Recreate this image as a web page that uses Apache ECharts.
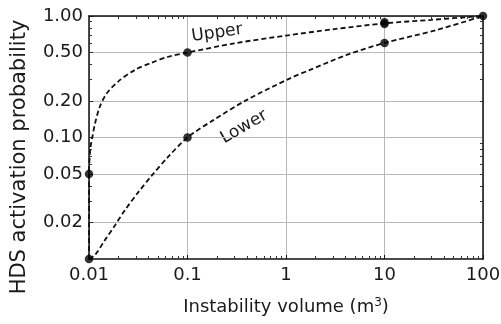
<!DOCTYPE html>
<html>
<head>
<meta charset="utf-8">
<script src="https://cdn.jsdelivr.net/npm/echarts@6/dist/echarts.min.js"></script>
<style>
html,body{margin:0;padding:0;background:#fff;}
#chart{width:501px;height:324px;}
</style>
</head>
<body>
<div id="chart"></div>
<script>
// ---- data ----
const xTicks = [0.01, 0.1, 1, 10, 100];
const xTickLabels = ['0.01', '0.1', '1', '10', '100'];
const yTicks = [0.02, 0.05, 0.1, 0.2, 0.5, 1];
const yTickLabels = ['0.02', '0.05', '0.10', '0.20', '0.50', '1.00'];
const xMinorTicks = [0.02,0.03,0.04,0.05,0.06,0.07,0.08,0.09,0.2,0.3,0.4,0.5,0.6,0.7,0.8,0.9,2,3,4,5,6,7,8,9,20,30,40,50,60,70,80,90];
const yMinorTicks = [0.02,0.03,0.04,0.05,0.06,0.07,0.08,0.09,0.2,0.3,0.4,0.5,0.6,0.7,0.8,0.9];

// Upper curve (volume m3, probability)
const upperCurveX = [0.01, 0.01, 0.0103, 0.0108, 0.0115, 0.0129, 0.0151, 0.0199, 0.0293, 0.0433, 0.0638, 0.1, 0.3, 1, 3.1, 10, 30, 100];
const upperCurveY = [0.01, 0.05, 0.08, 0.1, 0.13, 0.18, 0.23, 0.29, 0.36, 0.413, 0.462, 0.5, 0.596, 0.69, 0.78, 0.87, 0.93, 1];
// Lower curve
const lowerCurveX = [0.01, 0.0115, 0.0145, 0.0184, 0.0232, 0.0317, 0.0433, 0.0638, 0.1, 0.183, 0.4, 1.1, 1.75, 4.13, 10, 33.9, 100];
const lowerCurveY = [0.01, 0.0108, 0.0143, 0.019, 0.0253, 0.0355, 0.0485, 0.0695, 0.1, 0.139, 0.204, 0.307, 0.36, 0.478, 0.6, 0.767, 1];
// Marked points
const pointsX = [0.01, 0.1, 10, 10, 100, 0.01, 0.1, 10];
const pointsY = [0.05, 0.5, 0.86, 0.89, 1, 0.01, 0.1, 0.6];

const zip = (xs, ys) => xs.map((x, i) => [x, ys[i]]);

const FONT = '"DejaVu Sans", sans-serif';
const TXT = '#1a1a1a';

function logX(extra) {
  return Object.assign({
    type: 'log', logBase: 10, min: 0.01, max: 100,
    axisLine: {show: false}, axisTick: {show: false}, axisLabel: {show: false}, splitLine: {show: false}
  }, extra);
}
function logY(extra) {
  return Object.assign({
    type: 'log', logBase: 10, min: 0.01, max: 1,
    axisLine: {show: false}, axisTick: {show: false}, axisLabel: {show: false}, splitLine: {show: false}
  }, extra);
}
const pick = (ticks, labels) => v => {
  const i = ticks.findIndex(t => Math.abs(Math.log10(t) - Math.log10(v)) < 1e-6);
  return i >= 0 ? labels[i] : '';
};
const minorTick = {show: true, inside: true, length: 3, lineStyle: {color: '#333', width: 1}};

const chart = echarts.init(document.getElementById('chart'), null, {renderer: 'canvas'});
chart.setOption({
  animation: false,
  backgroundColor: '#fff',
  grid: {left: 89, right: 18, top: 16, bottom: 65, containLabel: false, outerBoundsMode: 'none'},
  xAxis: [
    logX({
      position: 'bottom',
      name: '{a|Instability volume (m}{s|3}{a|)}',
      nameLocation: 'middle', nameGap: 38,
      nameTextStyle: {rich: {
        a: {fontFamily: FONT, fontSize: 18, color: TXT},
        s: {fontFamily: FONT, fontSize: 12, color: TXT, verticalAlign: 'bottom', padding: [0, 0, 9, 0]}
      }},
      axisLine: {show: true, onZero: false, lineStyle: {color: '#111', width: 1.5}},
      axisTick: {show: true, inside: true, length: 4, customValues: xTicks, lineStyle: {color: '#111'}},
      axisLabel: {show: true, customValues: xTicks, margin: 7, fontFamily: FONT, fontSize: 18, color: TXT,
        formatter: pick(xTicks, xTickLabels)},
      splitLine: {show: true, lineStyle: {color: '#b8b8b8', width: 1}}
    }),
    logX({
      position: 'top',
      axisLine: {show: true, onZero: false, lineStyle: {color: '#111', width: 1.5}},
      axisTick: Object.assign({customValues: xMinorTicks}, minorTick)
    }),
    logX({
      position: 'bottom',
      axisTick: Object.assign({customValues: xMinorTicks}, minorTick)
    })
  ],
  yAxis: [
    logY({
      position: 'left',
      axisLine: {show: true, onZero: false, lineStyle: {color: '#111', width: 1.5}},
      axisTick: {show: true, inside: true, length: 4, customValues: yTicks, lineStyle: {color: '#111'}},
      axisLabel: {show: true, customValues: yTicks, margin: 6, fontFamily: FONT, fontSize: 18, color: TXT,
        formatter: pick(yTicks, yTickLabels)},
      splitLine: {show: true, lineStyle: {color: '#b8b8b8', width: 1}}
    }),
    logY({
      position: 'right',
      axisLine: {show: true, onZero: false, lineStyle: {color: '#111', width: 1.5}},
      axisTick: Object.assign({customValues: yMinorTicks}, minorTick)
    }),
    logY({
      position: 'left',
      axisTick: Object.assign({customValues: yMinorTicks}, minorTick)
    })
  ],
  series: [
    {
      type: 'line', name: 'Upper', data: zip(upperCurveX, upperCurveY),
      smooth: 0.3, showSymbol: false, symbol: 'none',
      lineStyle: {color: '#111', width: 1.8, type: [5, 3]}
    },
    {
      type: 'line', name: 'Lower', data: zip(lowerCurveX, lowerCurveY),
      smooth: 0.3, showSymbol: false, symbol: 'none',
      lineStyle: {color: '#111', width: 1.8, type: [5, 3]}
    },
    {
      type: 'scatter', data: zip(pointsX, pointsY),
      symbol: 'circle', symbolSize: 8.5, itemStyle: {color: '#000'}, z: 5
    }
  ],
  graphic: [
    {type: 'text', x: 20, y: 157, rotation: Math.PI / 2,
      style: {text: 'HDS activation probability', font: '21px ' + FONT, fill: TXT, align: 'center', verticalAlign: 'middle'}},
    {type: 'text', x: 217, y: 33, rotation: 8 * Math.PI / 180,
      style: {text: 'Upper', font: '17px ' + FONT, fill: TXT, align: 'center', verticalAlign: 'middle'}},
    {type: 'text', x: 244, y: 127, rotation: 30 * Math.PI / 180,
      style: {text: 'Lower', font: '17px ' + FONT, fill: TXT, align: 'center', verticalAlign: 'middle'}}
  ]
});
</script>
</body>
</html>
